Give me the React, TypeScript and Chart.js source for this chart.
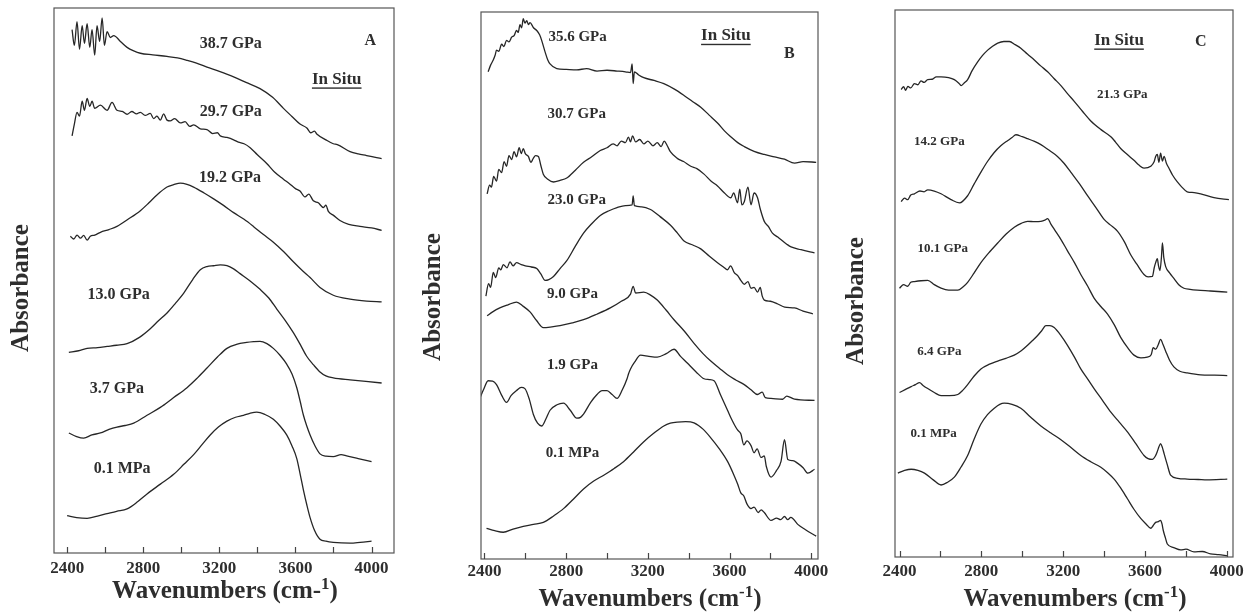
import React, { useEffect, useRef } from "react";
import { Chart, registerables } from "chart.js";
Chart.register(...registerables);

type Pt = [number, number];

// ---------- Panel A (wavenumber cm-1, absorbance in arbitrary stacked units) ----------
const A_38_7GPa: Pt[] = [[2426,1330],[2438,1290],[2452,1350],[2465,1280],[2479,1340],[2491,1295],[2505,1345],[2519,1285],[2531,1330],[2545,1265],[2557,1340],[2571,1300],[2584,1360],[2596,1290],[2610,1325],[2627,1310],[2645,1315],[2680,1300],[2715,1285],[2750,1276],[2785,1270],[2850,1266],[2925,1262],[2980,1258],[3030,1252],[3080,1245],[3135,1235],[3200,1224],[3275,1210],[3340,1196],[3414,1180],[3480,1158],[3537,1130],[3580,1110],[3624,1090],[3660,1080],[3680,1068],[3700,1072],[3712,1065],[3760,1050],[3799,1040],[3820,1038],[3887,1020],[3930,1014],[3974,1010],[4053,1002]];
const A_29_7GPa: Pt[] = [[2426,1060],[2438,1090],[2452,1120],[2465,1110],[2479,1148],[2491,1125],[2505,1155],[2519,1135],[2531,1148],[2545,1130],[2575,1138],[2610,1125],[2636,1145],[2662,1125],[2690,1122],[2715,1115],[2740,1122],[2765,1116],[2785,1120],[2810,1112],[2837,1117],[2855,1104],[2872,1110],[2890,1100],[2907,1116],[2925,1100],[2942,1098],[2965,1104],[2995,1093],[3020,1096],[3045,1084],[3065,1088],[3100,1078],[3135,1076],[3165,1066],[3190,1068],[3205,1060],[3240,1056],[3275,1050],[3300,1044],[3330,1040],[3362,1030],[3400,1012],[3449,990],[3490,968],[3537,950],[3570,938],[3600,926],[3624,920],[3650,905],[3670,912],[3694,895],[3720,890],[3747,878],[3760,884],[3773,868],[3800,858],[3834,845],[3880,835],[3939,830],[4000,826],[4053,820]];
const A_19_2GPa: Pt[] = [[2417,805],[2435,798],[2452,808],[2470,800],[2487,807],[2505,795],[2522,805],[2545,808],[2575,815],[2620,822],[2662,830],[2720,848],[2785,870],[2830,890],[2872,910],[2925,930],[2960,936],[2995,940],[3030,937],[3065,930],[3120,915],[3170,900],[3220,884],[3275,865],[3330,848],[3379,830],[3430,810],[3484,790],[3540,765],[3589,740],[3640,716],[3677,700],[3729,675],[3799,655],[3887,645],[3974,640],[4053,638]];
const A_13_0GPa: Pt[] = [[2409,510],[2460,514],[2505,520],[2560,522],[2610,525],[2660,528],[2715,532],[2780,548],[2837,570],[2880,590],[2925,610],[2970,635],[3012,660],[3060,695],[3100,720],[3135,728],[3170,730],[3205,732],[3240,730],[3275,722],[3309,710],[3360,692],[3414,670],[3460,648],[3502,620],[3545,592],[3589,560],[3625,530],[3659,500],[3695,478],[3729,460],[3760,450],[3799,445],[3887,440],[3970,436],[4053,432]];
const A_3_7GPa: Pt[] = [[2409,305],[2450,296],[2487,292],[2530,300],[2575,305],[2620,314],[2662,320],[2705,324],[2750,330],[2820,350],[2890,370],[2960,395],[3030,420],[3085,445],[3135,470],[3190,498],[3240,520],[3290,530],[3344,535],[3380,537],[3414,538],[3450,532],[3484,520],[3520,502],[3554,480],[3582,455],[3607,420],[3625,385],[3642,350],[3660,322],[3677,300],[3700,275],[3729,252],[3760,246],[3799,245],[3840,250],[3869,247],[3930,240],[4000,232]];
const A_0_1MPa: Pt[] = [[2400,95],[2450,90],[2505,88],[2560,94],[2610,100],[2660,106],[2715,112],[2770,130],[2820,150],[2890,175],[2960,200],[3015,226],[3065,250],[3110,276],[3152,300],[3195,320],[3240,335],[3285,345],[3327,350],[3360,355],[3397,358],[3440,352],[3484,340],[3520,322],[3554,300],[3582,272],[3607,240],[3625,200],[3642,160],[3660,122],[3677,90],[3700,58],[3729,35],[3760,30],[3799,27],[3887,25],[3940,27],[4000,30]];

// ---------- Panel B ----------
const B_35_6GPa: Pt[] = [[2418,1238],[2430,1255],[2443,1268],[2452,1280],[2459,1293],[2470,1290],[2484,1308],[2495,1302],[2508,1318],[2520,1314],[2533,1326],[2545,1330],[2557,1343],[2565,1338],[2574,1358],[2582,1350],[2590,1373],[2598,1362],[2607,1368],[2615,1358],[2623,1363],[2640,1350],[2656,1343],[2670,1332],[2680,1318],[2697,1288],[2710,1268],[2721,1258],[2754,1246],[2800,1244],[2852,1243],[2900,1246],[2951,1240],[3000,1242],[3049,1240],[3090,1238],[3115,1236],[3123,1258],[3128,1208],[3134,1238],[3155,1230],[3180,1223],[3230,1216],[3278,1208],[3330,1194],[3377,1178],[3420,1162],[3459,1148],[3500,1128],[3541,1108],[3575,1088],[3606,1073],[3640,1058],[3672,1048],[3720,1036],[3770,1028],[3820,1022],[3869,1016],[3918,1006],[3960,1010],[4024,1008]];
const B_30_7GPa: Pt[] = [[2413,928],[2425,950],[2434,945],[2445,972],[2459,960],[2470,990],[2484,982],[2496,1010],[2508,998],[2520,1025],[2533,1015],[2545,1035],[2557,1022],[2570,1045],[2580,1030],[2590,1043],[2600,1030],[2615,1023],[2627,1008],[2639,1018],[2650,1025],[2664,1023],[2676,1000],[2688,978],[2710,965],[2738,958],[2770,962],[2803,968],[2845,988],[2885,1008],[2925,1022],[2967,1038],[3000,1045],[3030,1055],[3049,1050],[3070,1062],[3090,1058],[3105,1072],[3115,1060],[3125,1075],[3140,1060],[3160,1066],[3180,1055],[3200,1062],[3225,1050],[3246,1058],[3265,1048],[3280,1062],[3295,1050],[3310,1035],[3344,1018],[3375,1010],[3410,998],[3440,992],[3475,978],[3510,960],[3541,948],[3575,930],[3606,918],[3620,930],[3639,905],[3650,940],[3660,900],[3672,908],[3690,945],[3705,900],[3720,930],[3737,918],[3750,890],[3770,858],[3790,845],[3810,828],[3836,818],[3860,808],[3880,800],[3901,793],[3950,786],[4016,778]];
const B_23_0GPa: Pt[] = [[2407,668],[2420,700],[2430,690],[2443,728],[2455,715],[2470,740],[2480,735],[2492,748],[2510,740],[2525,755],[2540,745],[2557,753],[2580,748],[2600,745],[2630,742],[2656,738],[2675,725],[2697,708],[2715,710],[2738,718],[2770,738],[2803,758],[2845,795],[2885,828],[2925,852],[2967,873],[3010,885],[3049,893],[3090,898],[3123,900],[3128,923],[3134,898],[3170,895],[3213,888],[3260,870],[3311,848],[3345,828],[3377,808],[3420,798],[3459,788],[3500,770],[3541,753],[3570,742],[3590,735],[3605,745],[3623,728],[3640,720],[3655,708],[3672,698],[3690,705],[3705,688],[3720,690],[3737,678],[3750,690],[3760,668],[3770,658],[3800,655],[3836,648],[3870,640],[3918,638],[3960,630],[4008,623]];
const B_9_0GPa: Pt[] = [[2413,618],[2440,628],[2475,638],[2515,646],[2557,653],[2590,642],[2623,628],[2655,606],[2688,588],[2730,590],[2770,593],[2830,600],[2885,608],[2950,622],[3016,638],[3070,655],[3115,673],[3128,693],[3140,676],[3180,678],[3215,670],[3246,658],[3290,632],[3328,608],[3380,578],[3426,548],[3470,522],[3508,503],[3550,485],[3590,468],[3630,455],[3672,443],[3705,430],[3737,418],[3760,424],[3775,410],[3803,408],[3860,406],[3880,414],[3918,406],[4016,403]];
const B_1_9GPa: Pt[] = [[2377,408],[2395,430],[2418,453],[2440,452],[2459,443],[2485,415],[2508,398],[2530,415],[2557,428],[2580,436],[2598,433],[2620,405],[2639,368],[2660,345],[2680,338],[2700,355],[2721,378],[2755,392],[2787,396],[2820,378],[2852,358],[2870,360],[2885,368],[2920,398],[2951,418],[2975,428],[3000,428],[3025,418],[3049,408],[3075,430],[3098,458],[3105,470],[3115,483],[3135,500],[3164,518],[3205,515],[3246,513],[3290,522],[3328,533],[3360,515],[3393,498],[3435,476],[3475,458],[3500,456],[3524,453],[3555,418],[3590,378],[3610,355],[3625,340],[3639,328],[3655,318],[3670,290],[3685,300],[3705,288],[3720,270],[3735,280],[3754,258],[3770,262],[3780,235],[3803,208],[3830,225],[3852,248],[3869,303],[3885,253],[3910,250],[3934,243],[3960,232],[3983,218],[4016,228]];
const B_0_1MPa: Pt[] = [[2410,78],[2450,72],[2492,68],[2540,76],[2590,83],[2640,88],[2688,93],[2740,110],[2787,128],[2835,152],[2885,178],[2935,198],[2984,213],[3035,230],[3082,248],[3130,272],[3180,298],[3230,320],[3278,338],[3310,345],[3344,348],[3385,349],[3426,346],[3470,330],[3508,308],[3550,280],[3590,248],[3620,215],[3640,190],[3655,168],[3670,160],[3685,140],[3705,128],[3720,132],[3740,118],[3755,125],[3770,118],[3803,98],[3830,104],[3850,100],[3869,108],[3885,100],[3900,106],[3934,88],[3970,75],[4024,58]];

// ---------- Panel C ----------
const C_21_3GPa: Pt[] = [[2408,1188],[2420,1195],[2430,1186],[2441,1196],[2455,1192],[2473,1203],[2490,1200],[2505,1210],[2520,1206],[2538,1213],[2560,1214],[2580,1220],[2603,1220],[2640,1218],[2668,1213],[2690,1204],[2701,1198],[2715,1204],[2733,1213],[2755,1236],[2782,1258],[2805,1274],[2831,1288],[2855,1298],[2880,1306],[2910,1310],[2937,1310],[2965,1302],[2993,1293],[3025,1278],[3059,1263],[3090,1248],[3124,1233],[3155,1216],[3189,1198],[3220,1178],[3254,1158],[3295,1132],[3335,1108],[3385,1086],[3433,1068],[3455,1055],[3481,1038],[3515,1022],[3546,1008],[3570,996],[3595,988],[3628,993],[3645,1005],[3652,1018],[3660,1023],[3668,1003],[3676,1026],[3685,1006],[3693,1018],[3705,1000],[3717,988],[3735,970],[3758,953],[3780,940],[3806,928],[3840,926],[3872,923],[3937,913],[4010,908]];
const C_14_2GPa: Pt[] = [[2408,903],[2425,912],[2440,908],[2455,920],[2473,923],[2500,930],[2520,928],[2538,933],[2570,930],[2603,923],[2652,908],[2693,900],[2733,918],[2765,948],[2798,978],[2830,1005],[2863,1028],[2895,1045],[2928,1058],[2950,1066],[2969,1073],[3000,1068],[3026,1063],[3060,1056],[3091,1048],[3130,1034],[3172,1018],[3205,1000],[3237,978],[3280,948],[3319,918],[3360,888],[3400,858],[3430,844],[3465,828],[3500,800],[3530,768],[3560,744],[3595,718],[3615,712],[3636,713],[3645,735],[3652,748],[3660,758],[3666,740],[3673,728],[3680,760],[3685,798],[3692,760],[3701,738],[3720,722],[3741,708],[3765,692],[3790,683],[3820,680],[3855,678],[3920,676],[4002,673]];
const C_10_1GPa: Pt[] = [[2400,683],[2420,692],[2440,688],[2455,698],[2473,700],[2505,702],[2538,703],[2570,692],[2603,683],[2640,678],[2685,678],[2710,686],[2733,698],[2765,722],[2798,748],[2840,775],[2880,798],[2920,820],[2961,838],[2995,848],[3026,853],[3060,852],[3091,853],[3110,856],[3124,860],[3140,846],[3156,833],[3190,806],[3221,778],[3255,748],[3286,718],[3320,688],[3351,658],[3385,636],[3416,618],[3450,590],[3481,558],[3515,532],[3546,513],[3580,506],[3611,508],[3630,514],[3640,532],[3652,528],[3665,540],[3676,553],[3688,540],[3701,523],[3720,500],[3741,483],[3770,472],[3806,468],[3872,463],[3940,462],[4002,461]];
const C_6_4GPa: Pt[] = [[2400,418],[2430,426],[2457,433],[2478,438],[2498,443],[2515,436],[2538,428],[2570,418],[2603,410],[2645,410],[2685,413],[2710,424],[2733,438],[2765,460],[2798,478],[2840,490],[2880,498],[2920,505],[2961,513],[2995,524],[3026,538],[3050,550],[3075,563],[3095,575],[3115,588],[3135,588],[3156,583],[3190,562],[3221,538],[3255,508],[3286,478],[3320,452],[3351,428],[3392,398],[3433,368],[3475,342],[3514,318],[3555,288],[3595,258],[3615,250],[3636,248],[3650,256],[3660,268],[3668,280],[3676,288],[3685,278],[3693,263],[3708,236],[3725,208],[3760,200],[3806,198],[3860,197],[3904,196],[4002,198]];
const C_0_1MPa: Pt[] = [[2392,213],[2425,220],[2457,223],[2490,220],[2522,213],[2565,196],[2603,183],[2635,190],[2668,203],[2700,228],[2733,258],[2765,300],[2798,338],[2830,362],[2863,378],[2890,388],[2912,391],[2950,388],[2993,378],[3040,356],[3091,333],[3140,315],[3189,298],[3238,278],[3286,258],[3335,242],[3384,228],[3420,213],[3449,198],[3480,176],[3514,148],[3545,122],[3579,98],[3605,84],[3628,73],[3640,80],[3652,88],[3665,90],[3676,93],[3683,84],[3689,68],[3700,48],[3709,33],[3740,24],[3774,18],[3800,20],[3839,13],[3880,14],[3920,8],[3960,6],[4002,3]];

// ---------- Axis ticks ----------
const X_TICKS = [2400, 2600, 2800, 3000, 3200, 3400, 3600, 3800, 4000];
const X_TICK_LABELS = ["2400", "", "2800", "", "3200", "", "3600", "", "4000"];

const FONT = "'Liberation Serif', 'Times New Roman', Times, serif";
const INK = "#2e2e2e";

type Note = { t: string; x: number; y: number; size: number; u?: boolean };

interface PanelCfg {
  key: string;
  offset: number;
  pad: { left: number; right: number; top: number };
  axisH: number;
  tickPad: number;
  xMin: number;
  xMax: number;
  yMax: number;
  series: Pt[][];
  notes: Note[];
  yTitle: [number, number];
  xTitle: [number, number];
  title: [string, string, string];
}

const PANELS: PanelCfg[] = [
  {
    key: "A", offset: 0, pad: { left: 54, right: 26, top: 8 }, axisH: 63, tickPad: 5,
    xMin: 2331, xMax: 4118, yMax: 1385,
    series: [A_38_7GPa, A_29_7GPa, A_19_2GPa, A_13_0GPa, A_3_7GPa, A_0_1MPa],
    notes: [
      { t: "38.7 GPa", x: 3260, y: 1294, size: 16 },
      { t: "29.7 GPa", x: 3260, y: 1122, size: 16 },
      { t: "19.2 GPa", x: 3256, y: 954, size: 16 },
      { t: "13.0 GPa", x: 2671, y: 656, size: 16 },
      { t: "3.7 GPa", x: 2662, y: 416, size: 16 },
      { t: "0.1 MPa", x: 2689, y: 214, size: 16 },
      { t: "A", x: 3993, y: 1302, size: 16 },
      { t: "In Situ", x: 3817, y: 1204, size: 17, u: true },
    ],
    yTitle: [22, 288], xTitle: [225, 590], title: ["Wavenumbers (cm-", "1", ")"],
  },
  {
    key: "B", offset: 420, pad: { left: 61, right: 22, top: 12 }, axisH: 57, tickPad: 2,
    xMin: 2383, xMax: 4033, yMax: 1390,
    series: [B_35_6GPa, B_30_7GPa, B_23_0GPa, B_9_0GPa, B_1_9GPa, B_0_1MPa],
    notes: [
      { t: "35.6 GPa", x: 2856, y: 1326, size: 15 },
      { t: "30.7 GPa", x: 2852, y: 1130, size: 15 },
      { t: "23.0 GPa", x: 2852, y: 913, size: 15 },
      { t: "9.0 GPa", x: 2831, y: 673, size: 15 },
      { t: "1.9 GPa", x: 2831, y: 493, size: 15 },
      { t: "0.1 MPa", x: 2831, y: 268, size: 15 },
      { t: "In Situ", x: 3582, y: 1330, size: 17, u: true },
      { t: "B", x: 3893, y: 1283, size: 16 },
    ],
    yTitle: [14, 297], xTitle: [230, 598], title: ["Wavenumbers (cm", "-1", ")"],
  },
  {
    key: "C", offset: 840, pad: { left: 55, right: 27, top: 10 }, axisH: 59, tickPad: 4,
    xMin: 2378, xMax: 4030, yMax: 1390,
    series: [C_21_3GPa, C_14_2GPa, C_10_1GPa, C_6_4GPa, C_0_1MPa],
    notes: [
      { t: "In Situ", x: 3473, y: 1313, size: 17, u: true },
      { t: "C", x: 3872, y: 1310, size: 16 },
      { t: "21.3 GPa", x: 3489, y: 1175, size: 13 },
      { t: "14.2 GPa", x: 2595, y: 1056, size: 13 },
      { t: "10.1 GPa", x: 2611, y: 783, size: 13 },
      { t: "6.4 GPa", x: 2595, y: 521, size: 13 },
      { t: "0.1 MPa", x: 2567, y: 313, size: 13 },
    ],
    yTitle: [17, 301], xTitle: [235, 598], title: ["Wavenumbers (cm", "-1", ")"],
  },
];

function makePlugin(cfg: PanelCfg) {
  return {
    id: "decor" + cfg.key,
    afterDraw(chart: any) {
      const { ctx, chartArea: ca } = chart;
      const xs = chart.scales.x;
      const ys = chart.scales.y;
      ctx.save();
      // frame
      ctx.strokeStyle = "#555";
      ctx.lineWidth = 1.2;
      ctx.strokeRect(ca.left, ca.top, ca.right - ca.left, ca.bottom - ca.top);
      // inward tick marks from the scale's ticks
      ctx.strokeStyle = "#444";
      ctx.lineWidth = 1.2;
      xs.ticks.forEach((t: any) => {
        const px = Math.round(xs.getPixelForValue(t.value)) + 0.5;
        ctx.beginPath();
        ctx.moveTo(px, ca.bottom);
        ctx.lineTo(px, ca.bottom - 6);
        ctx.stroke();
      });
      // notes
      ctx.fillStyle = INK;
      ctx.textAlign = "center";
      ctx.textBaseline = "middle";
      cfg.notes.forEach((n) => {
        ctx.font = `bold ${n.size}px ${FONT}`;
        const px = xs.getPixelForValue(n.x);
        const py = ys.getPixelForValue(n.y);
        ctx.fillText(n.t, px, py);
        if (n.u) {
          const w = ctx.measureText(n.t).width;
          ctx.fillRect(px - w / 2, py + n.size * 0.48, w, 1.4);
        }
      });
      // y title
      ctx.save();
      ctx.translate(cfg.yTitle[0], cfg.yTitle[1]);
      ctx.rotate(-Math.PI / 2);
      ctx.font = `bold 25px ${FONT}`;
      ctx.fillText("Absorbance", 0, 0);
      ctx.restore();
      // x title with superscript
      const [a, sup, b] = cfg.title;
      const big = `bold 25px ${FONT}`;
      const small = `bold 17px ${FONT}`;
      ctx.font = big;
      const wa = ctx.measureText(a).width;
      const wb = ctx.measureText(b).width;
      ctx.font = small;
      const ws = ctx.measureText(sup).width;
      const total = wa + ws + wb;
      let cx = cfg.xTitle[0] - total / 2;
      const cy = cfg.xTitle[1];
      ctx.textAlign = "left";
      ctx.textBaseline = "alphabetic";
      ctx.font = big;
      ctx.fillText(a, cx, cy + 8);
      cx += wa;
      ctx.font = small;
      ctx.fillText(sup, cx, cy - 1);
      cx += ws;
      ctx.font = big;
      ctx.fillText(b, cx, cy + 8);
      ctx.restore();
    },
  };
}

function Panel({ cfg }: { cfg: PanelCfg }) {
  const ref = useRef<HTMLCanvasElement | null>(null);
  useEffect(() => {
    if (!ref.current) return;
    const chart = new Chart(ref.current, {
      type: "line",
      data: {
        datasets: cfg.series.map((s) => ({
          data: s.map(([x, y]) => ({ x, y })),
          borderColor: "#262626",
          borderWidth: 1.3,
          pointRadius: 0,
          fill: false,
          cubicInterpolationMode: "monotone" as const,
        })),
      },
      options: {
        responsive: false,
        animation: false,
        devicePixelRatio: 1,
        events: [],
        layout: { padding: { left: cfg.pad.left, right: cfg.pad.right, top: cfg.pad.top, bottom: 0 } },
        plugins: { legend: { display: false }, tooltip: { enabled: false }, title: { display: false } },
        scales: {
          x: {
            type: "linear",
            min: cfg.xMin,
            max: cfg.xMax,
            grid: { display: false, drawTicks: false },
            border: { display: false },
            afterBuildTicks: (scale: any) => {
              scale.ticks = X_TICKS.map((v) => ({ value: v }));
            },
            afterFit: (scale: any) => { scale.height = cfg.axisH; },
            ticks: {
              autoSkip: false,
              maxRotation: 0,
              padding: cfg.tickPad,
              color: INK,
              font: { family: FONT, size: 17, weight: "bold" },
              callback: (v: any) => {
                const i = X_TICKS.indexOf(Number(v));
                return i >= 0 ? X_TICK_LABELS[i] : "";
              },
            },
          },
          y: { type: "linear", display: false, min: 0, max: cfg.yMax },
        },
      },
      plugins: [makePlugin(cfg)],
    } as any);
    return () => chart.destroy();
  }, [cfg]);
  return (
    <canvas
      ref={ref}
      width={420}
      height={616}
      style={{ position: "absolute", left: cfg.offset, top: 0, width: 420, height: 616 }}
    />
  );
}

export default function App() {
  return (
    <div style={{ position: "absolute", left: 0, top: 0, width: 1260, height: 616, background: "#fff", overflow: "hidden" }}>
      {PANELS.map((p) => (
        <Panel key={p.key} cfg={p} />
      ))}
    </div>
  );
}
